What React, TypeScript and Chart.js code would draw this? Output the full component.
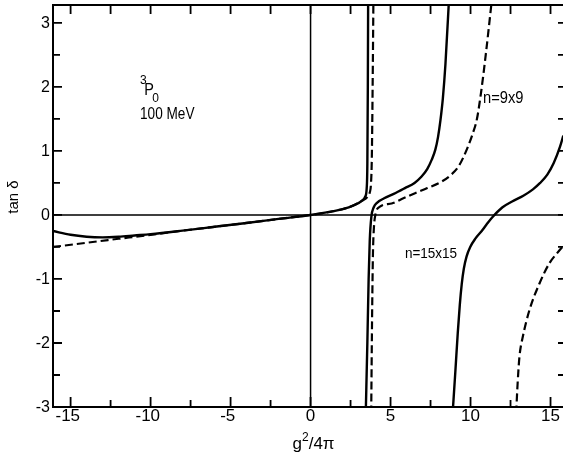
import React, { useEffect, useRef } from "react";
import { Chart, registerables } from "chart.js";

Chart.register(...registerables);

// axis ranges
const X_MIN = -16.1;
const X_MAX = 15.78;
const Y_MIN = -3;
const Y_MAX = 3.28;

// tick values and labels
const xMajorTicks = [-15, -10, -5, 0, 5, 10, 15];
const xMinorTicks = [-12.5, -7.5, -2.5, 2.5, 7.5, 12.5];
const xTickLabels = ["-15", "-10", "-5", "0", "5", "10", "15"];
const yMajorTicks = [-3, -2, -1, 0, 1, 2, 3];
const yMinorTicks = [-2.5, -1.5, -0.5, 0.5, 1.5, 2.5];
const yTickLabels = ["-3", "-2", "-1", "0", "1", "2", "3"];

// n = 15x15 (solid), branch 1
const solid1X = [-16.1, -15, -14, -13, -12, -11, -10, -8, -6, -4, -2, 0, 1, 2, 2.7, 3.2, 3.42, 3.51, 3.55, 3.58, 3.6];
const solid1Y = [-0.25, -0.31, -0.34, -0.35, -0.34, -0.32, -0.3, -0.245, -0.185, -0.125, -0.062, 0, 0.04, 0.09, 0.15, 0.22, 0.29, 0.42, 0.8, 2.0, 3.4];
// n = 15x15 (solid), branch 2
const solid2X = [3.45, 3.55, 3.63, 3.7, 3.8, 3.95, 4.15, 4.6, 5.2, 5.9, 6.5, 6.94, 7.3, 7.57, 7.8, 7.97, 8.12, 8.27, 8.43, 8.66];
const solid2Y = [-3.1, -2.0, -1.0, -0.4, -0.03, 0.12, 0.19, 0.26, 0.33, 0.42, 0.5, 0.6, 0.72, 0.86, 1.02, 1.22, 1.48, 1.82, 2.35, 3.4];
// n = 15x15 (solid), branch 3
const solid3X = [8.88, 9.05, 9.2, 9.33, 9.45, 9.58, 9.75, 9.98, 10.3, 10.7, 11.0, 11.35, 12.0, 12.6, 13.3, 13.9, 14.35, 14.8, 15.2, 15.6, 15.8];
const solid3Y = [-3.1, -2.45, -1.85, -1.4, -1.08, -0.84, -0.65, -0.5, -0.37, -0.25, -0.15, -0.04, 0.12, 0.21, 0.3, 0.4, 0.5, 0.63, 0.81, 1.07, 1.24];

// n = 9x9 (dashed), branch 1
const dash1X = [-16.1, -14, -12, -10, -8, -6, -4, -2, 0, 1, 2, 2.7, 3.2, 3.55, 3.7, 3.78, 3.83, 3.88, 3.93];
const dash1Y = [-0.5, -0.434, -0.372, -0.31, -0.245, -0.185, -0.125, -0.062, 0, 0.04, 0.09, 0.15, 0.22, 0.28, 0.35, 0.5, 0.9, 2.0, 3.4];
// n = 9x9 (dashed), branch 2
const dash2X = [3.79, 3.85, 3.9, 3.96, 4.05, 4.34, 5.07, 5.8, 6.53, 7.3, 8.19, 8.75, 9.23, 9.55, 9.86, 10.15, 10.4, 10.65, 10.95, 11.35];
const dash2Y = [-3.1, -1.5, -0.6, -0.2, 0.0, 0.13, 0.18, 0.26, 0.34, 0.42, 0.52, 0.62, 0.75, 0.9, 1.08, 1.28, 1.5, 1.9, 2.5, 3.4];
// n = 9x9 (dashed), branch 3
const dash3X = [12.85, 12.95, 13.06, 13.27, 13.69, 14.31, 14.94, 15.4, 15.8];
const dash3Y = [-3.1, -2.6, -2.21, -1.9, -1.48, -1.07, -0.75, -0.6, -0.48];

const FONT = "'Liberation Sans', Arial, sans-serif";

function pts(xs: number[], ys: number[]) {
  return xs.map((x, i) => ({ x, y: ys[i] }));
}

function solid(label: string, xs: number[], ys: number[]) {
  return {
    label,
    data: pts(xs, ys),
    showLine: true,
    borderColor: "#000",
    borderWidth: 2.4,
    pointRadius: 0,
    cubicInterpolationMode: "monotone" as const,
  };
}

function dashed(label: string, xs: number[], ys: number[]) {
  return {
    label,
    data: pts(xs, ys),
    showLine: true,
    borderColor: "#000",
    borderWidth: 2.2,
    borderDash: [8, 4],
    pointRadius: 0,
    cubicInterpolationMode: "monotone" as const,
  };
}

function narrowText(ctx: CanvasRenderingContext2D, text: string, x: number, y: number, sx: number) {
  ctx.save();
  ctx.translate(x, y);
  ctx.scale(sx, 1);
  ctx.fillText(text, 0, 0);
  ctx.restore();
}

const decorPlugin = {
  id: "decor",
  beforeDatasetsDraw(chart: any) {
    const { ctx, chartArea: a, scales } = chart;
    const xs = scales.x;
    const ys = scales.y;
    ctx.save();
    ctx.strokeStyle = "#000";
    ctx.lineWidth = 1.5;
    const y0 = ys.getPixelForValue(0);
    const x0 = xs.getPixelForValue(0);
    ctx.beginPath();
    ctx.moveTo(a.left, y0);
    ctx.lineTo(a.right, y0);
    ctx.moveTo(x0, a.top);
    ctx.lineTo(x0, a.bottom);
    ctx.stroke();
    ctx.restore();
  },
  afterDatasetsDraw(chart: any) {
    const { ctx, chartArea: a, scales } = chart;
    const xs = scales.x;
    const ys = scales.y;
    ctx.save();
    ctx.strokeStyle = "#000";
    ctx.fillStyle = "#000";
    // frame
    ctx.lineWidth = 2;
    ctx.beginPath();
    ctx.moveTo(a.right + 2, a.top);
    ctx.lineTo(a.left, a.top);
    ctx.lineTo(a.left, a.bottom);
    ctx.lineTo(a.right + 2, a.bottom);
    ctx.stroke();

    // ticks
    ctx.lineWidth = 1.8;
    ctx.beginPath();
    xMajorTicks.forEach((v) => {
      const p = xs.getPixelForValue(v);
      ctx.moveTo(p, a.bottom);
      ctx.lineTo(p, a.bottom - 10);
      ctx.moveTo(p, a.top);
      ctx.lineTo(p, a.top + 9);
    });
    xMinorTicks.forEach((v) => {
      const p = xs.getPixelForValue(v);
      ctx.moveTo(p, a.bottom);
      ctx.lineTo(p, a.bottom - 7);
      ctx.moveTo(p, a.top);
      ctx.lineTo(p, a.top + 9);
    });
    yMajorTicks.forEach((v) => {
      const p = ys.getPixelForValue(v);
      ctx.moveTo(a.left, p);
      ctx.lineTo(a.left + 9, p);
      ctx.moveTo(a.right + 3, p);
      ctx.lineTo(a.right - 5, p);
    });
    yMinorTicks.forEach((v) => {
      const p = ys.getPixelForValue(v);
      ctx.moveTo(a.left, p);
      ctx.lineTo(a.left + 7, p);
      ctx.moveTo(a.right + 3, p);
      ctx.lineTo(a.right - 5, p);
    });
    ctx.stroke();

    // x tick labels (digits centred on tick, minus sign hanging left)
    ctx.font = `17px ${FONT}`;
    ctx.textBaseline = "top";
    ctx.textAlign = "left";
    xMajorTicks.forEach((v, i) => {
      const p = xs.getPixelForValue(v);
      const lbl = xTickLabels[i];
      const digits = lbl.replace("-", "");
      const w = ctx.measureText(digits).width;
      ctx.fillText(digits, p - w / 2, a.bottom + 1);
      if (lbl.startsWith("-")) {
        const mw = ctx.measureText("-").width;
        ctx.fillText("-", p - w / 2 - mw, a.bottom + 1);
      }
    });

    // y tick labels
    ctx.font = `16px ${FONT}`;
    ctx.textAlign = "right";
    ctx.textBaseline = "middle";
    yMajorTicks.forEach((v, i) => {
      const p = ys.getPixelForValue(v);
      ctx.fillText(yTickLabels[i], a.left - 3, p + 1);
    });

    // x axis title g^2/4π
    ctx.textAlign = "left";
    ctx.textBaseline = "alphabetic";
    const big = `17px ${FONT}`;
    const small = `12px ${FONT}`;
    ctx.font = big;
    const wg = ctx.measureText("g").width;
    const wr = ctx.measureText("/4π").width;
    ctx.font = small;
    const w2 = ctx.measureText("2").width;
    const total = wg + w2 + wr;
    let tx = xs.getPixelForValue(0) + 3 - total / 2;
    const ty = a.bottom + 42;
    ctx.font = big;
    ctx.fillText("g", tx, ty);
    tx += wg;
    ctx.font = small;
    ctx.fillText("2", tx, ty - 8);
    tx += w2;
    ctx.font = big;
    ctx.fillText("/4π", tx, ty);

    // y axis title
    ctx.save();
    ctx.translate(18, 197);
    ctx.rotate(-Math.PI / 2);
    ctx.font = `15px ${FONT}`;
    ctx.textAlign = "center";
    ctx.textBaseline = "alphabetic";
    ctx.fillText("tan δ", 0, 0);
    ctx.restore();

    // annotations
    ctx.textAlign = "left";
    ctx.textBaseline = "alphabetic";
    ctx.font = `12px ${FONT}`;
    ctx.fillText("3", xs.getPixelForValue(-10.66), ys.getPixelForValue(2.04));
    ctx.font = `17px ${FONT}`;
    narrowText(ctx, "P", xs.getPixelForValue(-10.4), ys.getPixelForValue(1.875), 0.85);
    ctx.font = `12px ${FONT}`;
    ctx.fillText("0", xs.getPixelForValue(-9.9), ys.getPixelForValue(1.77));
    ctx.font = `17px ${FONT}`;
    narrowText(ctx, "100 MeV", xs.getPixelForValue(-10.66), ys.getPixelForValue(1.5), 0.8);
    ctx.font = `16px ${FONT}`;
    narrowText(ctx, "n=9x9", xs.getPixelForValue(10.78), ys.getPixelForValue(1.75), 0.92);
    ctx.font = `15px ${FONT}`;
    narrowText(ctx, "n=15x15", xs.getPixelForValue(5.9), ys.getPixelForValue(-0.67), 0.9);

    ctx.restore();
  },
};

export default function App() {
  const canvasRef = useRef<HTMLCanvasElement | null>(null);

  useEffect(() => {
    const canvas = canvasRef.current;
    if (!canvas) return;
    const chart = new Chart(canvas, {
      type: "scatter",
      data: {
        datasets: [
          solid("n=15x15 a", solid1X, solid1Y),
          solid("n=15x15 b", solid2X, solid2Y),
          solid("n=15x15 c", solid3X, solid3Y),
          dashed("n=9x9 a", dash1X, dash1Y),
          dashed("n=9x9 b", dash2X, dash2Y),
          dashed("n=9x9 c", dash3X, dash3Y),
        ],
      },
      options: {
        responsive: false,
        animation: false,
        devicePixelRatio: 1,
        layout: { padding: { left: 53, top: 5, right: 0, bottom: 51 } },
        scales: {
          x: { type: "linear", min: X_MIN, max: X_MAX, display: false },
          y: { type: "linear", min: Y_MIN, max: Y_MAX, display: false },
        },
        plugins: {
          legend: { display: false },
          tooltip: { enabled: false },
        },
        events: [],
      },
      plugins: [decorPlugin],
    });
    return () => chart.destroy();
  }, []);

  return (
    <div style={{ position: "absolute", left: 0, top: 0, width: 563, height: 458, background: "#fff" }}>
      <canvas ref={canvasRef} width={563} height={458} style={{ display: "block" }} />
    </div>
  );
}
